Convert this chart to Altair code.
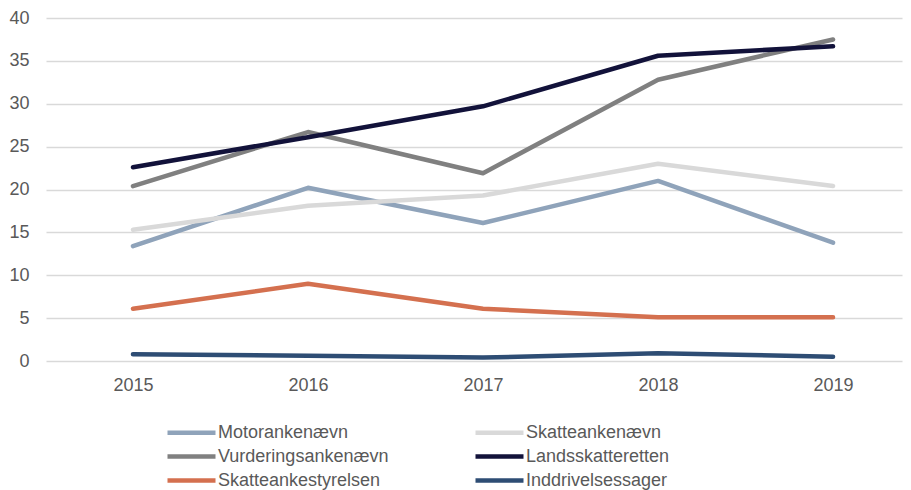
import altair as alt
import pandas as pd

years = [2015, 2016, 2017, 2018, 2019]
series_names = ["Motorankenævn", "Skatteankenævn", "Vurderingsankenævn",
                "Landsskatteretten", "Skatteankestyrelsen", "Inddrivelsessager"]
motor = [13.4, 20.2, 16.1, 21.0, 13.8]
skatteankenaevn = [15.3, 18.1, 19.3, 23.0, 20.4]
vurdering = [20.4, 26.7, 21.9, 32.8, 37.5]
landsskat = [22.6, 26.1, 29.7, 35.6, 36.7]
styrelsen = [6.1, 9.0, 6.1, 5.1, 5.1]
inddrivelse = [0.8, 0.6, 0.4, 0.9, 0.5]
colors = ["#8FA3BA", "#D9D9D9", "#808080", "#12123A", "#D4704F", "#2E4D74"]

values = [motor, skatteankenaevn, vurdering, landsskat, styrelsen, inddrivelse]
rows = []
for name, vals in zip(series_names, values):
    for y, v in zip(years, vals):
        rows.append({"year": y, "serie": name, "value": v})
df = pd.DataFrame(rows)

FONT = "Liberation Sans"
chart = alt.Chart(df).mark_line(strokeWidth=4.5, strokeCap="round", strokeJoin="round").encode(
    x=alt.X("year:Q", scale=alt.Scale(domain=[2014.503, 2019.394], nice=False, zero=False),
            axis=alt.Axis(values=years, format="d", title=None, grid=False, domain=False,
                          ticks=False, labelFontSize=18, labelColor="#595959",
                          labelPadding=15, labelFont=FONT)),
    y=alt.Y("value:Q", scale=alt.Scale(domain=[0, 40], nice=False),
            axis=alt.Axis(values=[0, 5, 10, 15, 20, 25, 30, 35, 40], title=None, domain=False,
                          ticks=False, gridColor="#D9D9D9", gridWidth=1.5,
                          labelFontSize=18, labelColor="#595959", labelPadding=17,
                          labelFont=FONT)),
    color=alt.Color("serie:N", sort=series_names,
                    scale=alt.Scale(domain=series_names, range=colors),
                    legend=alt.Legend(orient="none", legendX=131, legendY=400, columns=2,
                                      direction="horizontal",
                                      title=None, symbolType="M-2,0H2", symbolSize=576,
                                      symbolStrokeWidth=4.5, symbolFillColor="transparent",
                                      labelFontSize=18,
                                      labelColor="#595959", labelFont=FONT, labelOffset=12,
                                      columnPadding=77, rowPadding=0, padding=0,
                                      labelLimit=300)),
    order=alt.Order("serie:N"),
).properties(
    width=856, height=343,
    autosize=alt.AutoSizeParams(type="none"),
    padding={"left": 38, "top": 10, "right": 1, "bottom": 130},
).configure_view(stroke=None)

chart.save("out.html", embed_options={"renderer": "svg", "actions": False})
